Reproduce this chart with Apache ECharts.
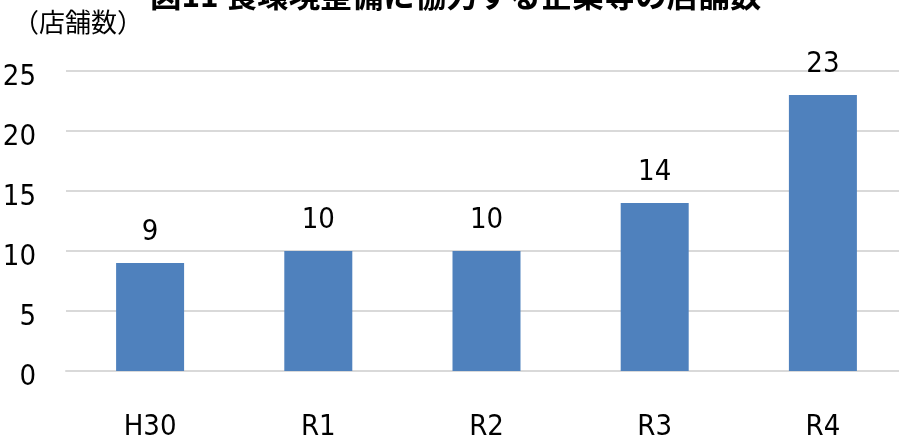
<!DOCTYPE html>
<html>
<head>
<meta charset="utf-8">
<script src="https://cdn.jsdelivr.net/npm/echarts@6/dist/echarts.min.js"></script>
<style>
  html, body { margin: 0; padding: 0; background: #ffffff; }
  #frame { width: 899px; height: 436px; overflow: hidden; position: relative; }
  #chart { width: 907px; height: 436px; }
</style>
</head>
<body>
<div id="frame"><div id="chart"></div></div>
<script>
// 年度ごとの店舗数
const categories = ['H30', 'R1', 'R2', 'R3', 'R4'];
const storeCounts = [9, 10, 10, 14, 23];
const yTicks = [0, 5, 10, 15, 20, 25];

const FONT = '"DejaVu Sans Condensed", "DejaVu Sans", "Noto Sans CJK JP", sans-serif';

const chart = echarts.init(document.getElementById('chart'), null, { renderer: 'canvas' });

chart.setOption({
  animation: false,
  backgroundColor: '#ffffff',
  title: {
    text: '図11 食環境整備に協力する企業等の店舗数',
    left: 145,
    top: -26,
    textStyle: {
      fontFamily: '"Noto Sans CJK JP", sans-serif',
      fontSize: 31.5,
      fontWeight: 'bold',
      color: '#000000'
    }
  },
  graphic: [{
    type: 'text',
    left: 13,
    top: 9,
    style: {
      text: '（店舗数）',
      font: '26px "Noto Sans CJK JP", sans-serif',
      fill: '#000000'
    }
  }],
  grid: {
    left: 66,
    top: 71,
    right: 0,
    height: 300,
    containLabel: false,
    outerBoundsMode: 'none'
  },
  xAxis: {
    type: 'category',
    data: categories,
    axisLine: { show: true, lineStyle: { color: '#d9d9d9', width: 2 } },
    axisTick: { show: false },
    axisLabel: {
      margin: 42,
      fontFamily: FONT,
      fontSize: 29,
      color: '#000000'
    }
  },
  yAxis: {
    type: 'value',
    min: yTicks[0],
    max: yTicks[yTicks.length - 1],
    interval: yTicks[1] - yTicks[0],
    axisLine: { show: false },
    axisTick: { show: false },
    splitLine: { lineStyle: { color: '#d9d9d9', width: 2 } },
    axisLabel: {
      margin: 30,
      fontFamily: FONT,
      fontSize: 29,
      color: '#000000',
      verticalAlign: 'top',
      lineHeight: 12
    }
  },
  series: [{
    type: 'bar',
    data: storeCounts,
    barWidth: 68,
    itemStyle: { color: '#4f81bd' },
    label: {
      show: true,
      position: 'top',
      distance: 16,
      fontFamily: FONT,
      fontSize: 29,
      color: '#000000'
    }
  }]
});
</script>
</body>
</html>
